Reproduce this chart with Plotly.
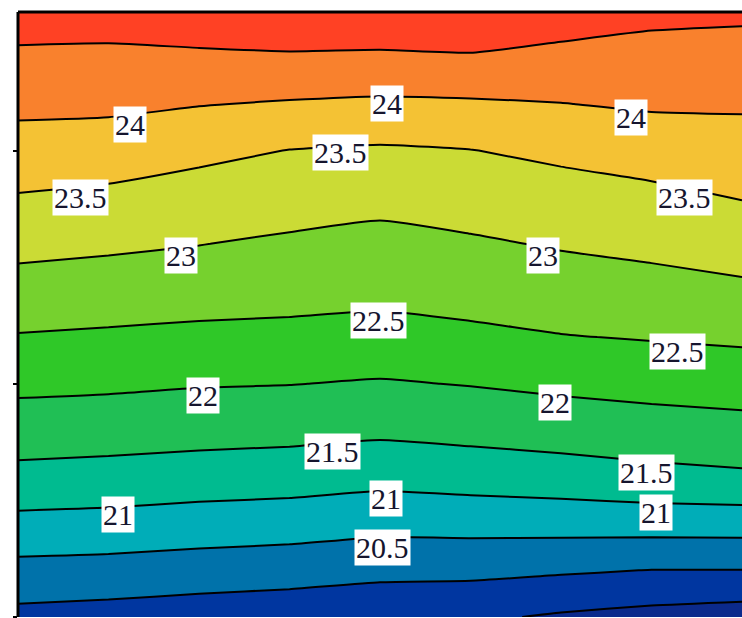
import plotly.graph_objects as go

# Grid coordinates
x_cols = [0, 1, 2, 3, 4, 5, 6, 7, 8]
y_rows = [0.0, 0.2, 0.4, 0.6, 0.8, 1.0, 1.2, 1.4, 1.6, 1.8, 2.0, 2.2, 2.4, 2.6]

# Field values, one list per row (bottom row first), one value per column
z_rows = [
    [19.86, 19.81, 19.74, 19.69, 19.62, 19.58, 19.44, 19.34, 19.26],
    [20.35, 20.32, 20.26, 20.21, 20.13, 20.12, 20.06, 19.99, 19.99],
    [20.86, 20.83, 20.77, 20.73, 20.65, 20.67, 20.69, 20.71, 20.72],
    [21.36, 21.32, 21.26, 21.22, 21.15, 21.21, 21.27, 21.36, 21.42],
    [21.75, 21.72, 21.68, 21.65, 21.59, 21.65, 21.72, 21.79, 21.84],
    [22.11, 22.08, 22.03, 22.01, 21.96, 22.02, 22.10, 22.16, 22.21],
    [22.47, 22.43, 22.39, 22.37, 22.33, 22.40, 22.48, 22.53, 22.58],
    [22.81, 22.76, 22.71, 22.67, 22.63, 22.69, 22.77, 22.83, 22.91],
    [23.14, 23.08, 23.01, 22.93, 22.87, 22.94, 23.04, 23.12, 23.22],
    [23.47, 23.40, 23.29, 23.21, 23.13, 23.22, 23.31, 23.39, 23.52],
    [23.80, 23.75, 23.62, 23.49, 23.44, 23.49, 23.60, 23.71, 23.79],
    [24.11, 24.10, 24.02, 23.96, 23.92, 23.94, 23.99, 24.06, 24.06],
    [24.42, 24.41, 24.42, 24.45, 24.42, 24.45, 24.37, 24.34, 24.32],
    [24.73, 24.71, 24.82, 24.85, 24.92, 24.97, 24.76, 24.62, 24.59],
]

# Contour levels
level_start = 19.5
level_end = 24.5
level_step = 0.5

# Band colours, lowest band first
band_colors = [
    "#0b2a8c", "#0036a0", "#0072aa", "#00adb8", "#00bb90", "#20bf55",
    "#2fc828", "#76d12e", "#cbdb35", "#f4c234", "#f9812d", "#ff4124",
]

# Inline level labels: level value and where it sits
label_levels = [24, 24, 24, 23.5, 23.5, 23.5, 23, 23, 22.5, 22.5,
                22, 22, 21.5, 21.5, 21, 21, 21, 20.5]
label_x = [1.24, 4.08, 6.77, 0.69, 3.56, 7.37, 1.80, 5.80, 3.98, 7.29,
           2.04, 5.93, 3.48, 6.95, 1.10, 4.07, 7.05, 4.03]
label_y = [2.11, 2.20, 2.14, 1.80, 1.99, 1.80, 1.55, 1.55, 1.27, 1.14,
           0.95, 0.92, 0.71, 0.62, 0.44, 0.51, 0.45, 0.30]

n = len(band_colors)
colorscale = [[i / (n - 1), c] for i, c in enumerate(band_colors)]

fig = go.Figure(
    go.Contour(
        x=x_cols,
        y=y_rows,
        z=z_rows,
        colorscale=colorscale,
        showscale=False,
        contours=dict(start=level_start, end=level_end, size=level_step,
                      coloring="fill", showlabels=False),
        line=dict(color="black", width=2, smoothing=0.5),
        hoverinfo="skip",
    )
)

for lv, lx, ly in zip(label_levels, label_x, label_y):
    fig.add_annotation(
        x=lx, y=ly, xref="x", yref="y",
        text=f"{lv:g}", showarrow=False,
        bgcolor="white", borderpad=1,
        font=dict(family="Liberation Serif, serif", size=30, color="#15152e"),
    )

fig.update_layout(
    width=742, height=618,
    margin=dict(l=18, r=0, t=12, b=1),
    paper_bgcolor="white",
    plot_bgcolor="white",
    showlegend=False,
)
fig.update_xaxes(range=[0, 8], showgrid=False, zeroline=False,
                 showticklabels=False, ticks="", showline=False)
fig.update_yaxes(range=[0, 2.594], showgrid=False, zeroline=False,
                 showticklabels=False, tickvals=[0, 1, 2],
                 ticks="outside", ticklen=4, tickwidth=2, tickcolor="black",
                 showline=False)

# Heavy frame on the left and top edges of the plotting area
fig.add_shape(type="line", xref="paper", yref="paper",
              x0=0, x1=0, y0=0, y1=1, line=dict(color="black", width=3))
fig.add_shape(type="line", xref="paper", yref="paper",
              x0=0, x1=1, y0=1, y1=1, line=dict(color="black", width=3))

fig.write_html("out.html")
